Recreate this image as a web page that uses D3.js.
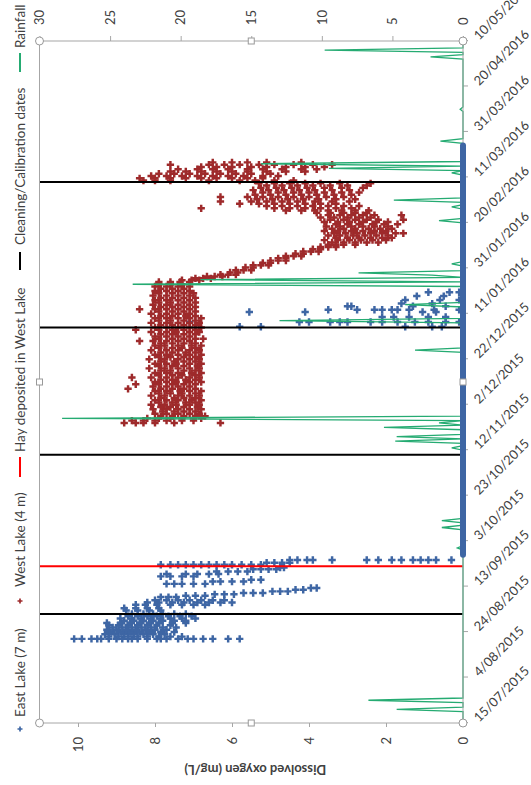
<!DOCTYPE html>
<html>
<head>
<meta charset="utf-8">
<script src="https://cdn.jsdelivr.net/npm/d3@7"></script>
<style>
  body { margin: 0; background: #fff; }
  text { font-family: Lato, "Open Sans", sans-serif; }
</style>
</head>
<body>
<div id="chart"></div>
<script>
// page is portrait, the chart itself is drawn landscape and turned a quarter
var W = 531, H = 785;
var cw = 785, ch = 531;
var margin = {top: 39.5, right: 41, bottom: 68, left: 62};

var startDate = "15/07/2015";
var endDate = "10/05/2016";
var dateTicks = ["15/07/2015", "4/08/2015", "24/08/2015", "13/09/2015", "3/10/2015",
  "23/10/2015", "12/11/2015", "2/12/2015", "22/12/2015", "11/01/2016", "31/01/2016",
  "20/02/2016", "11/03/2016", "31/03/2016", "20/04/2016", "10/05/2016"];
var doTicks = [0, 2, 4, 6, 8, 10];
var rainTicks = [0, 5, 10, 15, 20, 25, 30];
var cleaningDates = ["1/09/2015", "10/11/2015", "5/01/2016", "9/03/2016"];
var hayDates = ["22/09/2015"];
var legendLabels = ["East Lake (7 m)", "West Lake (4 m)", "Hay deposited in West Lake",
  "Cleaning/Calibration dates", "Rainfall"];

// rows: [days since 15/07/2015, DO readings (mg/L) on that day ...]
var eastRows = [
  [37, 10.1, 9.9, 9.65, 9.5, 9.4, 9.2, 9.0, 8.85, 8.7, 8.6, 8.45, 8.2, 7.95, 7.85, 7.7, 7.4, 7.15, 7.0, 6.75, 6.5, 6.1, 5.8],
  [38, 9.2, 8.95, 8.7, 8.45, 8.2, 7.9, 7.6, 7.3],
  [39, 9.3, 9.05, 8.8, 8.55, 8.3, 8.05, 7.75],
  [40, 9.15, 8.9, 8.65, 8.4, 8.15, 7.85, 7.5],
  [41, 9.25, 9.0, 8.75, 8.5, 8.25, 8.0, 7.7],
  [42, 9.1, 8.85, 8.6, 8.35, 8.1, 7.8, 7.45],
  [43, 9.2, 8.95, 8.7, 8.45, 8.2, 7.95, 7.6],
  [44, 9.25, 8.9, 8.65, 8.4, 8.15, 7.9, 7.55, 7.2],
  [45, 8.8, 8.55, 8.3, 8.05, 7.8, 7.5, 7.2],
  [46, 8.9, 8.6, 8.35, 8.1, 7.85, 7.6, 7.3, 6.95],
  [47, 8.7, 8.45, 8.2, 7.95, 7.65, 7.35, 7.05],
  [48, 8.6, 8.3, 8.05, 7.8, 7.5, 7.2],
  [49.5, 8.75, 8.45, 8.15, 7.85],
  [50.5, 8.8, 8.5, 8.2, 7.9],
  [52, 8.5, 8.25, 7.95, 7.6, 7.3, 7.0, 6.7],
  [53, 8.2, 7.9, 7.55, 7.25, 6.9, 6.6, 6.3, 6.0],
  [54, 8.0, 7.7, 7.4, 7.1, 6.8, 6.5, 6.2],
  [55.4, 7.85, 7.65, 7.45],
  [56, 7.2, 6.95, 6.7],
  [56.6, 6.45, 6.2, 5.95],
  [57.2, 5.7, 5.45, 5.2],
  [57.9, 4.95, 4.75, 4.55],
  [58.6, 4.35, 4.15],
  [59.4, 3.95, 3.8],
  [61.2, 7.7, 7.5, 7.3, 7.0, 6.7],
  [62.2, 6.5, 6.3, 6.0, 5.7],
  [63, 5.5, 5.25],
  [64.5, 7.85, 7.6, 7.3, 7.0],
  [65.5, 7.7, 7.2, 6.9, 6.6, 6.35],
  [66.6, 6.4, 6.1, 5.85, 5.6],
  [67.6, 5.45, 5.25, 5.05, 4.85],
  [68.4, 4.75, 4.65],
  [69.6, 7.85, 7.6, 7.4, 7.2, 7.0, 6.8, 6.6, 6.4, 6.2, 6.0, 5.75, 5.5, 5.25],
  [70.5, 5.1, 4.9, 4.7, 4.5],
  [71.7, 4.5, 4.3, 4.05, 3.9, 3.4, 2.5, 2.2, 1.85, 1.6, 1.3, 1.1, 0.9, 0.7, 0.3],
  [174.3, 5.8, 5.25, 1.5, 0.8, 0.55],
  [176.4, 7.1, 4.25, 4.0, 3.45, 3.2, 3.0, 2.4, 2.1, 1.7, 1.25, 0.9, 0.45, 0.1],
  [178.6, 2.1, 1.8, 1.4, 0.9, 0.45],
  [180.8, 5.55, 4.1, 1.05, 0.7],
  [181.8, 3.5, 2.75, 2.3, 2.1, 1.85, 1.7, 1.4, 0.75, 0.1],
  [183.3, 3.0, 2.9, 1.3, 0.45],
  [184.5, 1.6, 0.8],
  [186.1, 1.5, 0.6, 0.1],
  [187.8, 1.2, 0.5],
  [189.5, 0.9, 0.35, 0.1]
];
// East Lake sat at 0 mg/L between these days
var eastAnoxic = [[74, 254]];

var westRows = [
  [132, 8.8, 8.5, 8.3, 8.0, 7.5, 6.3],
  [133, 8.6, 8.3, 8.0, 7.7, 7.3, 7.0],
  [134, 8.2, 7.9, 7.6, 7.3, 7.0, 6.8],
  [135, 7.85, 7.55, 7.25, 6.95, 6.7],
  [136, 8.0, 7.7, 7.4, 7.1, 6.85],
  [137, 7.8, 7.5, 7.25, 6.95],
  [138, 8.05, 7.7, 7.4, 7.1, 6.8],
  [139, 7.85, 7.6, 7.25, 6.9],
  [140, 8.1, 7.75, 7.45, 7.1, 6.85],
  [141, 7.9, 7.55, 7.2, 6.95],
  [142, 8.0, 7.7, 7.4, 7.05, 6.8],
  [143, 7.85, 7.5, 7.25, 6.95],
  [144, 8.1, 7.75, 7.4, 7.1, 6.85],
  [145, 7.9, 7.6, 7.3, 6.95],
  [146, 8.0, 7.7, 7.35, 7.1, 6.8],
  [147, 8.7, 7.85, 7.55, 7.25, 6.95],
  [148, 8.05, 7.7, 7.4, 7.1],
  [149, 8.5, 7.9, 7.55, 7.25, 6.95],
  [150, 8.0, 7.7, 7.45, 7.1, 6.8],
  [151, 7.85, 7.55, 7.2, 6.95],
  [152, 8.6, 8.1, 7.7, 7.4, 7.1, 6.85],
  [153, 7.9, 7.55, 7.3, 6.95],
  [154, 8.0, 7.7, 7.4, 7.05, 6.8],
  [155, 7.85, 7.6, 7.25, 6.95],
  [156, 8.15, 7.75, 7.4, 7.1, 6.85],
  [157, 7.9, 7.55, 7.25, 6.9],
  [158, 8.0, 7.7, 7.45, 7.1, 6.8],
  [159, 7.85, 7.5, 7.25, 6.95],
  [160, 8.15, 7.75, 7.4, 7.1, 6.85],
  [161, 7.9, 7.6, 7.25, 6.95],
  [162, 8.0, 7.7, 7.4, 7.1, 6.8],
  [163, 7.85, 7.55, 7.2, 6.95],
  [164, 8.1, 7.7, 7.4, 7.1, 6.85],
  [165, 7.9, 7.55, 7.3, 6.95],
  [166, 8.0, 7.75, 7.4, 7.05, 6.8],
  [167, 7.85, 7.55, 7.25, 6.95],
  [168, 8.4, 8.05, 7.7, 7.4, 7.1],
  [169, 7.9, 7.55, 7.25, 6.95, 6.75],
  [170, 8.0, 7.7, 7.4, 7.1],
  [171, 7.85, 7.55, 7.25, 6.95],
  [172, 8.1, 7.7, 7.45, 7.1, 6.85],
  [173, 8.5, 7.9, 7.55, 7.25, 6.95],
  [174, 8.0, 7.7, 7.4, 7.1, 6.8],
  [175, 7.85, 7.55, 7.25, 6.95],
  [176, 8.1, 7.7, 7.4, 7.1, 6.85],
  [177, 7.9, 7.6, 7.25, 6.95],
  [178, 8.0, 7.7, 7.4, 7.1, 6.8],
  [179, 7.85, 7.55, 7.2, 6.95],
  [180, 8.1, 7.7, 7.4, 7.1],
  [181, 7.9, 7.55, 7.25, 6.95],
  [182, 8.4, 8.0, 7.7, 7.4, 7.1],
  [183, 7.85, 7.55, 7.25, 6.95],
  [184, 8.05, 7.7, 7.4, 7.1],
  [185, 7.9, 7.6, 7.25, 6.95],
  [186, 8.0, 7.7, 7.4, 7.1],
  [187, 7.85, 7.55, 7.25, 6.95],
  [188, 8.05, 7.7, 7.4, 7.1],
  [189, 7.9, 7.55, 7.25, 7.0],
  [190, 8.0, 7.7, 7.4, 7.1],
  [191, 7.85, 7.55, 7.25],
  [192, 8.0, 7.7, 7.4, 7.1],
  [193, 7.9, 7.6, 7.3],
  [194, 7.9, 7.6, 7.35, 7.1],
  [194.8, 7.3, 7.05, 6.85],
  [195.6, 6.95, 6.75, 6.55],
  [196.4, 6.65, 6.45, 6.25],
  [197.2, 6.3, 6.1, 5.9],
  [198.2, 6.05, 5.85],
  [199.2, 5.9, 5.7, 5.5],
  [200.4, 5.65, 5.45],
  [201.4, 5.45, 5.25, 5.05],
  [202.4, 5.2, 5.0],
  [203.4, 5.0, 4.8, 4.6],
  [204.4, 4.8, 4.6],
  [205.4, 4.6, 4.4, 4.2],
  [206.4, 4.35, 4.15],
  [207.4, 4.15, 3.95, 3.75],
  [208.4, 3.9, 3.7],
  [209.4, 3.7, 3.5, 3.3],
  [210.4, 3.5, 3.3, 3.1, 2.8],
  [211.4, 3.4, 3.1, 2.8, 2.5, 2.2],
  [212.4, 3.6, 3.25, 2.95, 2.65, 2.35, 2.0],
  [213.4, 3.3, 3.0, 2.7, 2.4, 2.1, 1.85],
  [214.4, 3.5, 3.2, 2.85, 2.55, 2.25, 1.95],
  [215.4, 3.35, 3.05, 2.75, 2.4, 2.1, 1.75, 1.55],
  [216.4, 3.6, 3.25, 2.9, 2.6, 2.3, 2.0],
  [217.4, 3.4, 3.1, 2.8, 2.45, 2.15, 1.85],
  [218.4, 3.55, 3.2, 2.9, 2.6, 2.3, 1.95],
  [219.4, 3.3, 3.0, 2.7, 2.35, 2.05, 1.7],
  [220.4, 3.6, 3.25, 2.95, 2.6, 2.25, 1.95],
  [221.4, 3.45, 3.1, 2.8, 2.5, 2.2, 1.55],
  [222.4, 3.7, 3.35, 3.0, 2.7, 2.4],
  [223.4, 3.5, 3.2, 2.9, 2.6, 2.3, 1.6],
  [224.4, 3.8, 3.45, 3.1, 2.8, 2.5],
  [225.4, 4.6, 4.2, 3.85, 3.5, 3.15, 2.8, 2.45],
  [226.4, 4.9, 4.5, 4.1, 3.7, 3.3, 2.9, 6.8],
  [227.4, 5.1, 4.7, 4.3, 3.9, 3.5, 3.1, 2.7],
  [228.4, 5.3, 4.9, 4.5, 4.1, 3.7, 3.3, 5.8],
  [229.4, 5.5, 5.1, 4.7, 4.3, 3.85, 3.4, 2.95, 6.3],
  [230.4, 5.35, 4.95, 4.55, 4.15, 3.75, 3.3, 2.8],
  [231.4, 5.6, 5.2, 4.8, 4.4, 4.0, 3.55, 3.1, 6.3],
  [232.4, 5.4, 5.0, 4.6, 4.2, 3.8, 3.35, 2.9],
  [233.4, 5.2, 4.8, 4.4, 4.0, 3.6, 3.15, 2.7],
  [234.4, 5.45, 5.05, 4.65, 4.25, 3.85, 3.4, 2.95],
  [235.4, 5.25, 4.85, 4.45, 4.05, 3.6, 3.15, 2.6],
  [236.4, 5.1, 4.7, 4.3, 3.9, 3.45, 3.0, 2.5],
  [237.4, 5.3, 4.9, 4.5, 4.1, 3.7, 3.2, 2.4],
  [238.6, 8.3, 8.0, 7.6, 6.6, 5.8, 5.4, 4.9, 4.4],
  [239.6, 8.4, 8.0, 7.6, 7.2, 6.8, 6.4, 6.0, 5.6, 5.2],
  [240.6, 8.1, 7.7, 7.3, 6.9, 6.5, 6.1, 5.7, 5.2, 4.8],
  [241.6, 7.9, 7.5, 7.1, 6.7, 6.3, 5.9, 5.5, 5.0],
  [242.6, 7.6, 7.2, 6.8, 6.4, 6.0, 5.6, 5.1, 4.6, 4.1],
  [243.6, 7.4, 6.9, 6.5, 6.1, 5.6, 5.2, 4.7, 4.2, 3.8],
  [244.6, 6.8, 6.4, 6.0, 5.5, 5.1, 4.6, 4.1, 3.6],
  [245.6, 7.6, 6.6, 6.2, 5.8, 5.3, 4.9, 4.4, 3.9, 3.4],
  [246.6, 6.5, 6.0, 5.6, 5.1, 4.2]
];

// daily rainfall (mm): [days since 15/07/2015, mm]
var rainfall = [
  [0, 0], [5, 0], [6, 4.7], [7, 0], [9, 0], [10, 6.7], [11, 0],
  [76, 0], [77, 0.4], [78, 0], [85, 0], [86, 1.5], [87, 0], [88, 0], [89, 1.5], [90, 0],
  [120, 0], [121, 0.8], [122, 0], [123, 0], [124, 4.8], [125, 0], [126, 4.7], [127, 0],
  [129, 0], [130, 5.6], [131, 0], [132, 1.7], [133, 0], [134, 28.4], [135, 0],
  [163, 0], [164, 3.4], [165, 0], [176, 0], [177, 13], [178, 0], [183, 0], [184, 4.1], [185, 0],
  [192, 0], [193, 23.4], [194, 0], [195, 18.6], [196, 0], [197, 2.2], [198, 7.4], [199, 0],
  [201, 0], [202, 0.8], [203, 0], [220, 0], [221, 1.7], [222, 0], [226, 0], [227, 0.8], [228, 0],
  [229, 0], [230, 4.9], [231, 0], [241, 0], [242, 0.8], [243, 0], [244, 9.5], [245, 0],
  [246, 14.3], [247, 0], [255, 0], [256, 1.6], [257, 0], [269, 0], [270, 0.2], [271, 0],
  [292, 0], [293, 2.3], [294, 0], [295, 0], [296, 9.8], [297, 0], [300, 0]
];

var eastColor = "#3e66a4",
    westColor = "#9e2a2b",
    rainColor = "#25ab72",
    axisColor = "#a6a6a6",
    textColor = "#404040";

var parse = d3.timeParse("%d/%m/%Y");
var t0 = parse(startDate);
var dayDate = function (d) {
  return new Date(t0.getTime() + d * 864e5);
};
var flatten = function (rows) {
  return rows.flatMap(function (r) {
    return r.slice(1).map(function (v) { return [r[0], v]; });
  });
};

var iw = cw - margin.left - margin.right,
    ih = ch - margin.top - margin.bottom;

var x = d3.scaleTime().domain([t0, parse(endDate)]).range([0, iw]);
var y = d3.scaleLinear().domain([0, 11]).range([ih, 0]);
var yr = d3.scaleLinear().domain([0, 30]).range([ih, 0]);

var svg = d3.select("#chart").append("svg")
  .attr("width", W)
  .attr("height", H);

var root = svg.append("g")
  .attr("transform", "translate(0," + H + ") rotate(-90)");

var g = root.append("g")
  .attr("transform", "translate(" + margin.left + "," + margin.top + ")");

// axes
var xAxis = g.append("g")
  .attr("transform", "translate(0," + ih + ")")
  .call(d3.axisBottom(x).tickValues(dateTicks.map(parse)).tickSize(5)
    .tickFormat(function (d, i) { return dateTicks[i]; }));
xAxis.selectAll(".tick text")
  .attr("x", 0).attr("y", 0).attr("dy", "0.35em")
  .attr("transform", "translate(3,13) rotate(45)")
  .style("text-anchor", "start");

var yAxis = g.append("g")
  .call(d3.axisLeft(y).tickValues(doTicks).tickSize(4).tickPadding(10));

var rAxis = g.append("g")
  .attr("transform", "translate(" + iw + ",0)")
  .call(d3.axisRight(yr).tickValues(rainTicks).tickSize(5).tickPadding(11));

[xAxis, yAxis, rAxis].forEach(function (a) {
  a.select(".domain").remove();
  a.selectAll(".tick line").attr("stroke", axisColor);
  a.selectAll(".tick text")
    .attr("fill", textColor)
    .style("font-size", "13px")
    .style("font-family", "Lato, sans-serif");
});

root.append("text")
  .attr("transform", "translate(15," + (margin.top + ih / 2 + 4) + ") rotate(-90)")
  .attr("text-anchor", "middle")
  .attr("dy", "0.35em")
  .attr("fill", textColor)
  .style("font-size", "13px")
  .style("font-weight", "bold")
  .text("Dissolved oxygen (mg/L)");

// scatter points
var cross = d3.symbol().type(d3.symbolCross).size(30);

g.append("g").selectAll("path")
  .data(flatten(eastRows))
  .join("path")
  .attr("d", cross)
  .attr("transform", function (d) {
    return "translate(" + x(dayDate(d[0])) + "," + y(d[1]) + ")";
  })
  .attr("fill", eastColor);

g.append("g").selectAll("path")
  .data(flatten(westRows))
  .join("path")
  .attr("d", cross)
  .attr("transform", function (d) {
    return "translate(" + x(dayDate(d[0])) + "," + y(d[1]) + ")";
  })
  .attr("fill", westColor);

// event lines
g.append("g").selectAll("line")
  .data(cleaningDates)
  .join("line")
  .attr("x1", function (d) { return x(parse(d)); })
  .attr("x2", function (d) { return x(parse(d)); })
  .attr("y1", y(0)).attr("y2", y(11))
  .attr("stroke", "#000")
  .attr("stroke-width", 2);

g.append("g").selectAll("line")
  .data(hayDates)
  .join("line")
  .attr("x1", function (d) { return x(parse(d)); })
  .attr("x2", function (d) { return x(parse(d)); })
  .attr("y1", y(0)).attr("y2", y(11))
  .attr("stroke", "#ff0000")
  .attr("stroke-width", 2);

// rainfall
g.append("path")
  .datum(rainfall)
  .attr("fill", "none")
  .attr("stroke", rainColor)
  .attr("stroke-width", 1.3)
  .attr("d", d3.line()
    .x(function (d) { return x(dayDate(d[0])); })
    .y(function (d) { return yr(d[1]); }));

// plot frame
g.append("rect")
  .attr("width", iw).attr("height", ih)
  .attr("fill", "none")
  .attr("stroke", axisColor);

// days at 0 mg/L
g.append("g").selectAll("line")
  .data(eastAnoxic)
  .join("line")
  .attr("x1", function (d) { return x(dayDate(d[0])); })
  .attr("x2", function (d) { return x(dayDate(d[1])); })
  .attr("y1", y(0)).attr("y2", y(0))
  .attr("stroke", eastColor)
  .attr("stroke-width", 6)
  .attr("stroke-linecap", "round");

// selection handles round the plot area
var corners = [[0, 0], [iw, 0], [0, ih], [iw, ih]];
var mids = [[iw / 2, 0], [iw / 2, ih], [0, ih / 2], [iw, ih / 2]];
g.append("g").selectAll("circle")
  .data(corners)
  .join("circle")
  .attr("cx", function (d) { return d[0]; })
  .attr("cy", function (d) { return d[1]; })
  .attr("r", 4)
  .attr("fill", "#fff")
  .attr("stroke", "#999");
g.append("g").selectAll("rect")
  .data(mids)
  .join("rect")
  .attr("x", function (d) { return d[0] - 3; })
  .attr("y", function (d) { return d[1] - 3; })
  .attr("width", 6).attr("height", 6)
  .attr("fill", "#fff")
  .attr("stroke", "#999");

// legend
var legend = root.append("g").attr("transform", "translate(0,20)");
var legendX = [68, 198, 333, 540, 737];
var legendKeys = [
  {type: "mark", color: eastColor, x: 56},
  {type: "mark", color: westColor, x: 184},
  {type: "line", color: "#ff0000", x: 308, w: 20},
  {type: "line", color: "#000", x: 515, w: 18},
  {type: "line", color: rainColor, x: 713, w: 19}
];
legendKeys.forEach(function (k) {
  if (k.type == "mark") {
    legend.append("path")
      .attr("d", d3.symbol().type(d3.symbolCross).size(14))
      .attr("transform", "translate(" + k.x + ",0)")
      .attr("fill", k.color);
  } else {
    legend.append("line")
      .attr("x1", k.x).attr("x2", k.x + k.w)
      .attr("stroke", k.color)
      .attr("stroke-width", 2);
  }
});
legend.selectAll("text")
  .data(legendLabels)
  .join("text")
  .attr("x", function (d, i) { return legendX[i]; })
  .attr("dy", "0.35em")
  .attr("fill", textColor)
  .style("font-size", "13.5px")
  .text(function (d) { return d; });
</script>
</body>
</html>
